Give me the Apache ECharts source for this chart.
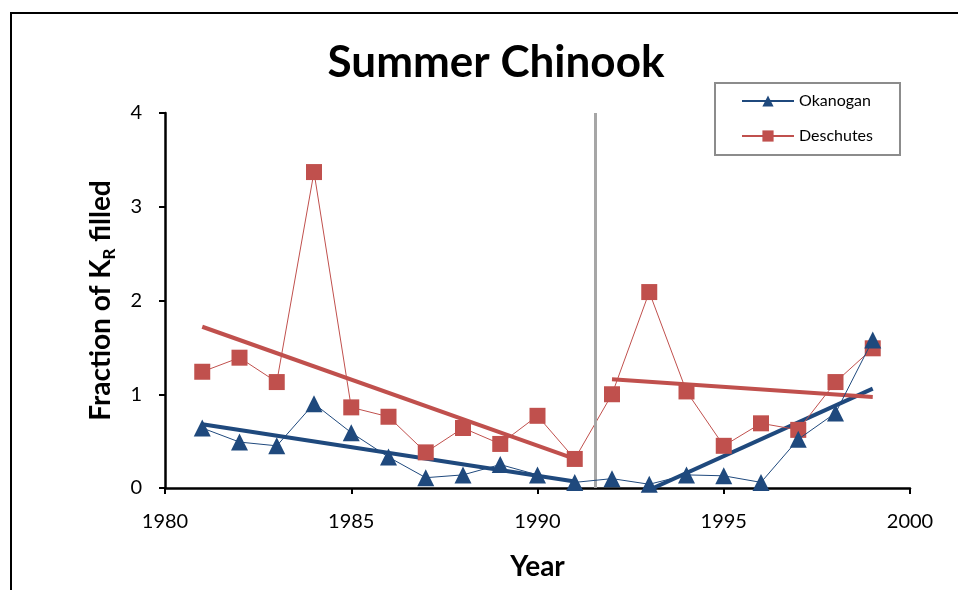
<!DOCTYPE html>
<html><head><meta charset="utf-8">
<script src="https://cdn.jsdelivr.net/npm/echarts@6/dist/echarts.min.js"></script>
<style>html,body{margin:0;padding:0;background:#fff}#c{width:958px;height:590px}</style>
</head><body><div id="c"></div>
<script>
const years = [1981,1982,1983,1984,1985,1986,1987,1988,1989,1990,1991,1992,1993,1994,1995,1996,1997,1998,1999];
const okanogan = [0.64,0.49,0.45,0.90,0.59,0.33,0.11,0.14,0.25,0.14,0.06,0.10,0.04,0.14,0.13,0.06,0.52,0.80,1.58];
const deschutes = [1.24,1.39,1.13,3.37,0.86,0.76,0.38,0.64,0.47,0.77,0.31,1.00,2.09,1.03,0.45,0.69,0.62,1.13,1.49];
const okTrend1 = [[1981,0.68],[1991,0.07]];
const okTrend2 = [[1992,-0.20],[1999,1.06]];
const deTrend1 = [[1981,1.72],[1991,0.31]];
const deTrend2 = [[1992,1.16],[1999,0.97]];
const breakYear = 1991.55;
const xTicks = {min:1980,max:2000,interval:5};
const yTicks = {min:0,max:4,interval:1};

const BLUE = '#1F497D', RED = '#C0504D';
const FONT = 'Lato, "Open Sans", sans-serif';
const chart = echarts.init(document.getElementById('c'));
const pair = (xs, ys) => xs.map((x,i)=>[x, ys[i]]);
chart.setOption({
  animation:false,
  textStyle:{fontFamily:FONT},
  graphic:[{type:'rect',shape:{x:11,y:13,width:1000,height:1000},style:{fill:null,stroke:'#000',lineWidth:2},silent:true,z:-1}],
  title:{text:'Summer Chinook',left:491,top:36,textAlign:'center',textStyle:{fontFamily:FONT,fontSize:44,fontWeight:'bold',color:'#000'}},
  legend:{orient:'vertical',left:715,top:83,padding:[10,27,11,26],itemGap:19,itemWidth:52,itemHeight:14,
    borderColor:'#8c8c8c',borderWidth:2,textStyle:{fontFamily:FONT,fontSize:16,color:'#000'},
    data:['Okanogan','Deschutes']},
  grid:{left:165,right:48,top:113,bottom:102},
  xAxis:{type:'value',min:xTicks.min,max:xTicks.max,interval:xTicks.interval,name:'Year',nameLocation:'middle',nameGap:65,
    nameTextStyle:{fontFamily:FONT,fontSize:28,fontWeight:'bold',color:'#000'},
    axisLine:{onZero:false,lineStyle:{color:'#000',width:2.5}},axisTick:{length:6,lineStyle:{color:'#000',width:2}},
    axisLabel:{margin:24,fontSize:20,color:'#000',fontFamily:FONT,formatter:v=>String(v)},splitLine:{show:false}},
  yAxis:{type:'value',min:yTicks.min,max:yTicks.max,interval:yTicks.interval,
    name:'{b|Fraction of K}{s|R}{b| filled}',nameLocation:'middle',nameGap:47,
    nameTextStyle:{rich:{b:{fontFamily:FONT,fontSize:28,fontWeight:'bold',color:'#000',lineHeight:34,verticalAlign:'middle'},
      s:{fontFamily:FONT,fontSize:17,fontWeight:'bold',color:'#000',lineHeight:34,verticalAlign:'bottom'}}},
    axisLine:{show:true,lineStyle:{color:'#000',width:2.5}},axisTick:{show:true,length:6,lineStyle:{color:'#000',width:2}},
    axisLabel:{margin:23,fontSize:20,color:'#000',fontFamily:FONT},splitLine:{show:false}},
  series:[
    {name:'Okanogan',type:'line',data:pair(years,okanogan),symbol:'triangle',symbolSize:17,
      itemStyle:{color:BLUE},lineStyle:{color:BLUE,width:1},z:5,
      markLine:{silent:true,symbol:'none',label:{show:false},lineStyle:{color:'#A6A6A6',width:3,type:'solid'},data:[{xAxis:breakYear}]}},
    {name:'Deschutes',type:'line',data:pair(years,deschutes),symbol:'rect',symbolSize:16,
      itemStyle:{color:RED},lineStyle:{color:RED,width:1},z:4},
    {name:'okT1',type:'line',data:okTrend1,symbol:'none',lineStyle:{color:BLUE,width:4},z:3},
    {name:'okT2',type:'line',data:okTrend2,symbol:'none',clip:true,lineStyle:{color:BLUE,width:4},z:3},
    {name:'deT1',type:'line',data:deTrend1,symbol:'none',lineStyle:{color:RED,width:4},z:3},
    {name:'deT2',type:'line',data:deTrend2,symbol:'none',lineStyle:{color:RED,width:4},z:3}
  ]
});
</script></body></html>
